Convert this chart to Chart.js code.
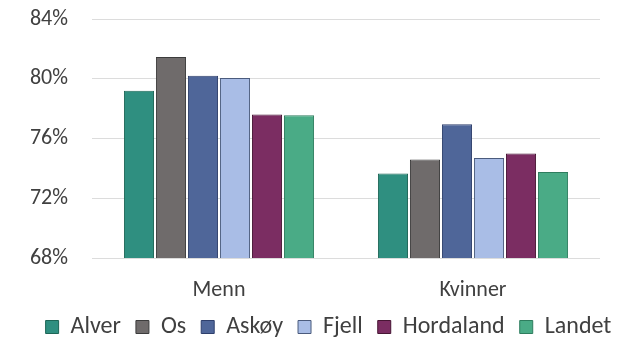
<!DOCTYPE html>
<html>
<head>
<meta charset="utf-8">
<script src="https://cdn.jsdelivr.net/npm/chart.js@4"></script>
<style>
  html, body { margin: 0; padding: 0; background: #fff; }
  #wrap { width: 635px; height: 337px; }
</style>
</head>
<body>
<div id="wrap"><canvas id="genderChart"></canvas></div>
<script>
// categories and series (percent)
var categories = ['Menn', 'Kvinner'];
var seriesNames = ['Alver', 'Os', 'Askøy', 'Fjell', 'Hordaland', 'Landet'];
var alver = [79.2, 73.65];
var os = [81.45, 74.6];
var askoy = [80.2, 76.95];
var fjell = [80.05, 74.7];
var hordaland = [77.6, 75.0];
var landet = [77.55, 73.75];
var yTicks = [68, 72, 76, 80, 84];

var fills = ['#2f8f80', '#6f6b6b', '#4f6699', '#a9bde6', '#7b2d62', '#4aab86'];
var borders = ['#1d6656', '#3c3c3c', '#2e3f6c', '#4b5b7d', '#471634', '#2e7d5e'];
var values = [alver, os, askoy, fjell, hordaland, landet];

Chart.defaults.font.family = "Carlito, 'Open Sans', sans-serif";
Chart.defaults.color = '#404040';

var ctx = document.getElementById('genderChart').getContext('2d');
var chart = new Chart(ctx, {
	type: 'bar',
	data: {
	    labels: categories,
	    datasets: seriesNames.map(function (name, i) {
	        return {
	            label: name,
	            data: values[i],
	            backgroundColor: fills[i],
	            borderColor: borders[i],
	            borderWidth: 1,
	            categoryPercentage: 0.756,
	            barPercentage: 0.94
	        };
	    })
	},
	options: {
	    responsive: true,
	    maintainAspectRatio: false,
	    animation: false,
	    layout: { padding: { top: 0, right: 0, left: 22, bottom: -12 } },
	    scales: {
	        x: {
	            grid: { display: false },
	            border: { display: false },
	            afterFit: function (s) { s.height = 42; },
	            ticks: { font: { size: 22 }, padding: 11, color: '#404040' }
	        },
	        y: {
	            min: 68,
	            max: 84,
	            afterBuildTicks: function (s) {
	                s.ticks = yTicks.map(function (v) { return { value: v }; });
	            },
	            afterFit: function (s) {
	                s.width = 70;
	                s.paddingTop = 19;
	                s.paddingBottom = 13;
	            },
	            grid: { color: '#dcdcdc', drawTicks: false },
	            border: { display: false },
	            ticks: {
	                font: { size: 22 },
	                padding: 24,
	                color: '#404040',
	                callback: function (v) { return v + '%'; }
	            }
	        },
	        // empty right-hand space so the plot ends at the same place
	        yRight: {
	            position: 'right',
	            grid: { display: false },
	            border: { display: false },
	            ticks: { display: false },
	            afterFit: function (s) { s.width = 35; }
	        }
	    },
	    plugins: {
	        legend: {
	            position: 'bottom',
	            labels: {
	                boxWidth: 13,
	                boxHeight: 13,
	                padding: 15,
	                font: { size: 24 },
	                color: '#404040'
	            }
	        },
	        tooltip: { enabled: false }
	    }
	}
});
</script>
</body>
</html>
